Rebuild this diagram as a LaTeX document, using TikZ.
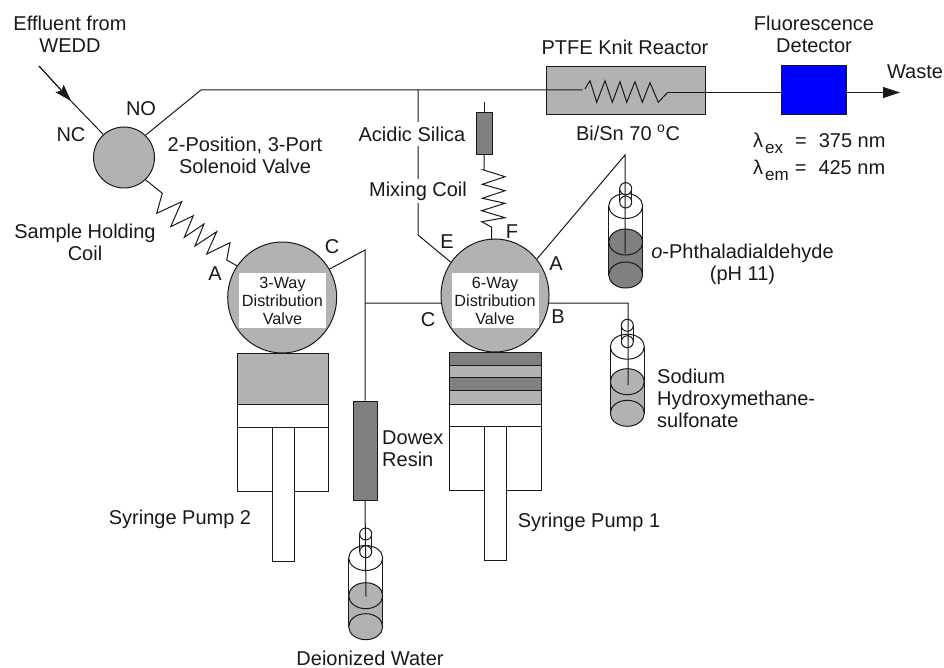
\documentclass[tikz,border=0pt]{standalone}
\usepackage{fontspec}
\setmainfont{Liberation Sans}
\usetikzlibrary{shapes.geometric,arrows.meta}
\definecolor{lgray}{HTML}{B2B2B2}
\definecolor{dgray}{HTML}{808080}
\newcommand{\lowsub}[1]{\hspace{2pt}\raisebox{-6.5pt}{\fontsize{17}{17}\selectfont #1}}
\tikzset{
  line/.style={line width=1pt,black!90},
  txt/.style={font=\fontsize{20}{22}\selectfont,align=center,inner sep=0pt,text=black!90},
  ltxt/.style={txt,align=left,anchor=west},
  small/.style={font=\fontsize{16.2}{18}\selectfont,align=center,fill=white,inner sep=0pt,minimum width=87pt,minimum height=54.5pt,text=black!90},
  gapped/.style={txt,fill=white,minimum height=24pt},
  valve/.style={ellipse,draw=black!90,line width=1pt,fill=lgray,inner sep=0pt},
  box/.style={rectangle,draw=black!90,line width=1pt,inner sep=0pt},
}
% x, tube top y, tube foot y, top y, mid y, bottom y, liquid colour
\newcommand{\bottlepic}[7]{%
  \fill[#7] (#1-17,#5) -- (#1-17,#6) -- (#1+17,#6) -- (#1+17,#5) -- cycle;
  \draw[line] (#1-17,#4) -- (#1-17,#6) (#1+17,#4) -- (#1+17,#6);
  \draw[line,fill=white] (#1,#4) ellipse [x radius=17,y radius=12.5];
  \draw[line,fill=white] (#1-6,#2) -- (#1-6,#3) (#1+6,#2) -- (#1+6,#3);
  \draw[line,fill=white] (#1,#3) ellipse [x radius=6,y radius=6];
  \draw[line,fill=white] (#1,#2) ellipse [x radius=6,y radius=6];
  \draw[line,fill=#7] (#1,#5) ellipse [x radius=17,y radius=13];
  \draw[line,fill=#7] (#1,#6) ellipse [x radius=17,y radius=13];
}
\begin{document}
\begin{tikzpicture}[x=1pt,y=-1pt]
\useasboundingbox (0,0) rectangle (944,668);

% boxes that lie under the lines
\node[box,fill=lgray,minimum width=159pt,minimum height=48pt] (reactor) at (625.5,91) {};
\node[box,fill=blue,minimum width=65pt,minimum height=49pt] (detector) at (813.5,90.5) {};

% pumps
\node[box,fill=lgray,minimum width=91pt,minimum height=51pt] (p2head) at (282.5,378.5) {};
\node[box,fill=white,minimum width=91pt,minimum height=23pt] (p2mid) at (282.5,415.5) {};
\node[box,fill=white,minimum width=91pt,minimum height=64pt] (p2body) at (282.5,459) {};
\node[box,fill=white,minimum width=22pt,minimum height=134pt] (p2plunger) at (283,494) {};
\node[box,fill=dgray,minimum width=92pt,minimum height=13pt] (p1a) at (495,358.5) {};
\node[box,fill=lgray,minimum width=92pt,minimum height=12pt] (p1b) at (495,371) {};
\node[box,fill=dgray,minimum width=92pt,minimum height=13pt] (p1c) at (495,383.5) {};
\node[box,fill=lgray,minimum width=92pt,minimum height=14pt] (p1d) at (495,397) {};
\node[box,fill=white,minimum width=92pt,minimum height=22pt] (p1e) at (495,415) {};
\node[box,fill=white,minimum width=92pt,minimum height=64pt] (p1body) at (495,458) {};
\node[box,fill=white,minimum width=22pt,minimum height=134pt] (p1plunger) at (495,493) {};

% columns
\node[box,fill=dgray,minimum width=24pt,minimum height=99pt] (dowex) at (365,450.5) {};
\node[box,fill=dgray,minimum width=16pt,minimum height=42pt] (silica) at (484,134) {};

% bottles
\bottlepic{625.7}{188.7}{202}{206}{242}{275}{dgray}
\bottlepic{627.3}{325.3}{341.7}{346.7}{381.7}{413.3}{lgray}
\bottlepic{365.7}{534}{551.7}{558}{595.7}{626.7}{lgray}

% valves
\node[valve,circle,minimum size=61pt] (sol) at (124,157.5) {};
\node[valve,minimum width=109pt,minimum height=111pt] (v3) at (282.2,297.5) {};
\node[valve,minimum width=108pt,minimum height=113pt] (v6) at (495,295.5) {};
\node[small] (v3label) at (282.5,300.5) {3-Way\\Distribution\\Valve};
\node[small] (v6label) at (495,300.5) {6-Way\\Distribution\\Valve};

% free ends
\coordinate (wedd) at (39,66);
\coordinate (arrowtip) at (71,101);
\coordinate (corner) at (201,90);
\coordinate (tee) at (418,90);
\coordinate (ecorner) at (418,235);
\coordinate (coilin) at (582.5,90);
\coordinate (coilout) at (668,92.5);
\coordinate (waste) at (900,92.5);
\coordinate (ccorner) at (365,250);
\coordinate (cjoin) at (365,303);
\coordinate (dowexfoot) at (365,500);
\coordinate (ditube) at (366,596.5);
\coordinate (silicatop) at (484,102);
\coordinate (silicafoot) at (484,155);
\coordinate (opacorner) at (625,155);
\coordinate (opatube) at (625,253);
\coordinate (bcorner) at (628,303);
\coordinate (btube) at (628,385);

% connectors
\draw[line] (wedd) -- (arrowtip) -- (sol.132);
\draw[line,-{Stealth[length=17pt,width=11pt,inset=3pt]}] (wedd) -- (arrowtip);
\draw[line] (sol.46) -- (corner) -- (coilin);
\draw[line] (tee) -- (ecorner) -- (v6.143);
\draw[line] (sol.-46) -- (162.3,193.3) -- (156.7,213.3) -- (181.7,201.7) -- (170.7,226.7) -- (193.3,215.7) -- (184.3,237.3) -- (204,224) -- (195,246) -- (216.7,231.7) -- (206.7,254) -- (230,242.7) -- (226.7,260) -- (v3.145);
\draw[line] (v3.31.5) -- (ccorner) -- (dowex.north);
\draw[line] (cjoin) -- (v6.188);
\draw[line] (dowexfoot) -- (ditube);
\draw[line] (silicatop) -- (silica.north);
\draw[line] (silicafoot) -- (484,170) -- (483.7,170) -- (505,176.7) -- (482.3,184.3) -- (505,190.7) -- (482.3,198.3) -- (505,203.3) -- (481.7,210.7) -- (505,217.7) -- (481.7,221.7) -- (491.7,227.3) -- (491.7,240);
\draw[line] (v6.41) -- (opacorner) -- (opatube);
\draw[line] (v6.-8) -- (bcorner) -- (btube);
\draw[line] (585,89) -- (590,80.7) -- (596.7,102.3) -- (605,80.7) -- (612.3,102.3) -- (620,81.7) -- (626.7,102.3) -- (635,81.7) -- (642.3,102.3) -- (650,82.7) -- (658.3,102.3) -- (666.7,93.3) -- (coilout);
\draw[line] (coilout) -- (detector.west |- coilout);
\draw[line,-{Triangle[length=17pt,width=11pt]}] (detector.east |- waste) -- (waste);

% texts
\node[txt] (t1) at (70,34) {Effluent from\\WEDD};
\node[txt] (t2) at (141,109) {NO};
\node[txt] (t3) at (71,135) {NC};
\node[txt] (t4) at (245,155) {2-Position, 3-Port\\Solenoid Valve};
\node[txt] (t5) at (85,242) {Sample Holding\\Coil};
\node[txt] (t6) at (215,274) {A};
\node[txt] (t7) at (332,247) {C};
\node[txt] (t8) at (447,242) {E};
\node[txt] (t9) at (512,232) {F};
\node[txt] (t10) at (556,264) {A};
\node[txt] (t11) at (428,320) {C};
\node[txt] (t12) at (558,317) {B};
\node[txt] (t13) at (625,47) {PTFE Knit Reactor};
\node[txt] (t14) at (628,133) {Bi/Sn 70 \textsuperscript{o}C};
\node[txt] (t15) at (814,34) {Fluorescence\\Detector};
\node[txt] (t16) at (915,72) {Waste};
\node[txt,anchor=base west] (t17) at (753,147.5) {λ\lowsub{ex}\hspace{12pt}=\hspace{12pt}375 nm};
\node[txt,anchor=base west] (t18) at (753,174.3) {λ\lowsub{em}\hspace{6pt}=\hspace{12pt}425 nm};
\node[gapped] (t19) at (412,134) {Acidic Silica};
\node[gapped] (t20) at (418,191) {Mixing Coil};
\node[txt] (t21) at (742.5,264) {\textit{o}-Phthaladialdehyde\\(pH 11)};
\node[ltxt] (t22) at (657,398) {Sodium\\Hydroxymethane-\\sulfonate};
\node[txt] (t23) at (180,519) {Syringe Pump 2};
\node[txt] (t24) at (589,522) {Syringe Pump 1};
\node[ltxt] (t25) at (382,449) {Dowex\\Resin};
\node[txt] (t26) at (370,658) {Deionized Water};
\end{tikzpicture}
\end{document}
